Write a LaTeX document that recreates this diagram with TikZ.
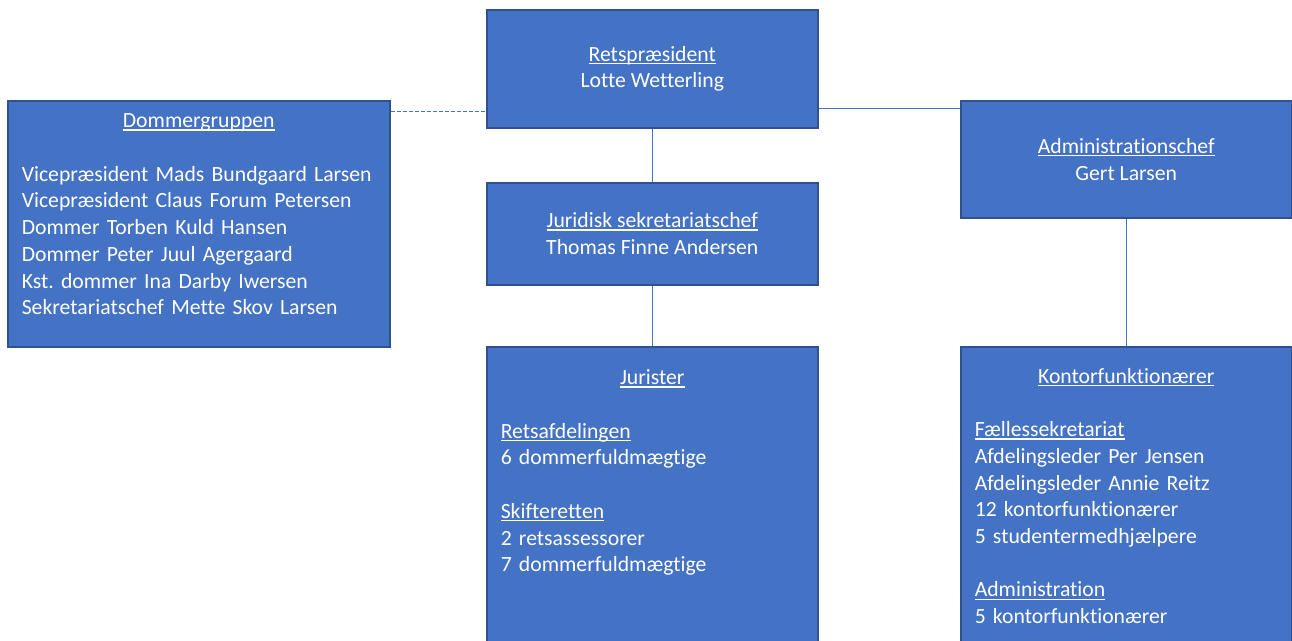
\documentclass[tikz,border=0pt]{standalone}
\usepackage{fontspec}
\setmainfont[Ligatures={NoCommon}]{Carlito}
\usetikzlibrary{positioning}
\definecolor{unitfill}{HTML}{4472C4}
\definecolor{unitline}{HTML}{2F528F}
\newsavebox{\ulinebox}
\newcommand{\ultext}[1]{\leavevmode\sbox{\ulinebox}{#1}\rlap{\rule[-2.8pt]{\wd\ulinebox}{1.2pt}}\usebox{\ulinebox}}
\newcommand{\orgfont}{\fontsize{21.7}{26.7}\selectfont\frenchspacing}
\begin{document}
\begin{tikzpicture}[x=1pt, y=-1pt,
    unit/.style={draw=unitline, line width=1.5pt, fill=unitfill, anchor=north west, minimum width=331pt, text=white, font=\orgfont, align=center},
    list/.style={text=white, font=\orgfont, align=left, text width=303pt, inner sep=0pt, anchor=north},
    link/.style={draw=unitfill, line width=0.8pt}]
  \useasboundingbox (0,0) rectangle (1292,640);
  \clip (0,0) rectangle (1292,640);
  \node[unit, minimum height=118pt] (pres) at (486,9) {\ultext{Retspræsident}\\Lotte Wetterling};
  \node[unit, minimum width=382pt, minimum height=246pt] (dom) at (7,100) {};
  \node[unit, minimum height=102pt] (jur) at (486,182) {\ultext{Juridisk sekretariatschef}\\Thomas Finne Andersen};
  \node[unit, minimum height=117pt] (adm) at (960,100) {\ultext{Administrationschef}\\Gert Larsen};
  \node[unit, minimum height=330pt] (jurister) at (486,346) {};
  \node[unit, minimum height=330pt] (kontor) at (960,346) {};
  \node[list, text width=354pt, below=9pt of dom.north] (domtext) {\strut\makebox[\hsize]{\ultext{Dommergruppen}}\\[26.7pt]
    \makebox[0pt][l]{Vicepræsident Mads Bundgaard Larsen}\\
    Vicepræsident Claus Forum Petersen\\
    Dommer Torben Kuld Hansen\\
    Dommer Peter Juul Agergaard\\
    Kst. dommer Ina Darby Iwersen\\
    Sekretariatschef Mette Skov Larsen};
  \node[list, below=20pt of jurister.north] (juristertext) {\strut\makebox[\hsize]{\ultext{Jurister}}\\[26.7pt]
    \ultext{Retsafdelingen}\\
    6 dommerfuldmægtige\\[26.7pt]
    \ultext{Skifteretten}\\
    2 retsassessorer\\
    7 dommerfuldmægtige};
  \node[list, below=18.5pt of kontor.north] (kontortext) {\strut\makebox[\hsize]{\ultext{Kontorfunktionærer}}\\[26.7pt]
    \ultext{Fællessekretariat}\\
    Afdelingsleder Per Jensen\\
    Afdelingsleder Annie Reitz\\
    12 kontorfunktionærer\\
    5 studentermedhjælpere\\[26.7pt]
    \ultext{Administration}\\
    5 kontorfunktionærer};
  \coordinate (domlink) at ([yshift=-11pt]dom.north east);
  \coordinate (admlink) at ([yshift=-8pt]adm.north west);
  \draw[link, dash pattern=on 4pt off 2pt] (domlink) -- (domlink -| pres.west);
  \draw[link] (admlink -| pres.east) -- (admlink);
  \draw[link] (pres.south) -- (jur.north);
  \draw[link] (jur.south) -- (jurister.north);
  \draw[link] (adm.south) -- (kontor.north);
\end{tikzpicture}
\end{document}
